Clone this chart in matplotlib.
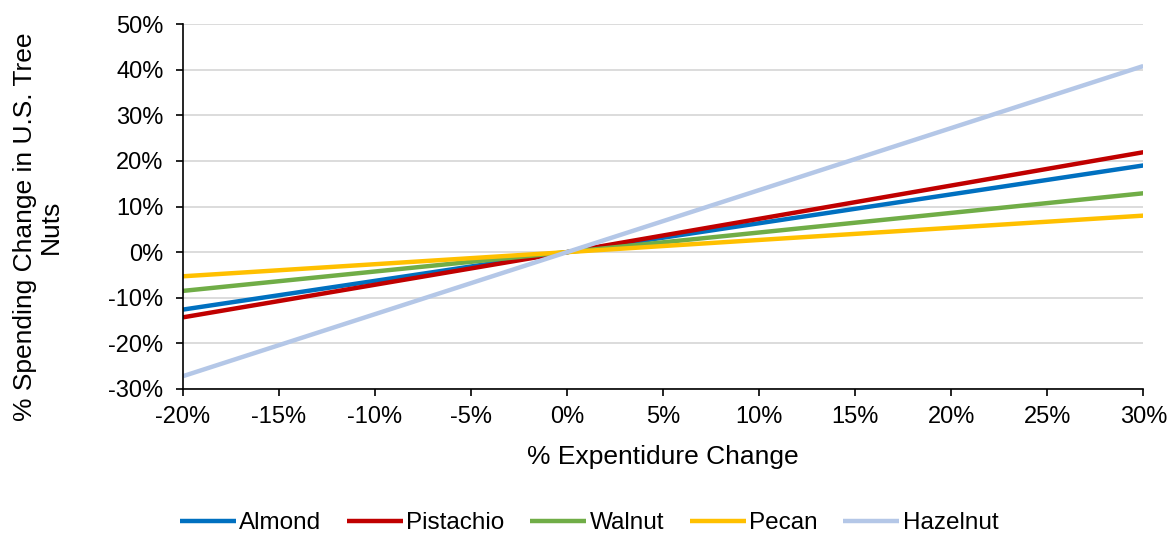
import matplotlib
matplotlib.use("Agg")
import matplotlib.pyplot as plt
from matplotlib.ticker import FuncFormatter

plt.rcParams['font.family'] = ['Liberation Sans', 'DejaVu Sans']

# Expenditure change (%) at the ends and the origin
expenditure = [-20, 0, 30]

almond = [-12.6, 0, 19.0]
pistachio = [-14.3, 0, 21.9]
walnut = [-8.5, 0, 12.9]
pecan = [-5.3, 0, 8.0]
hazelnut = [-27.2, 0, 40.8]

series_names = ["Almond", "Pistachio", "Walnut", "Pecan", "Hazelnut"]
series_values = [almond, pistachio, walnut, pecan, hazelnut]
colors = ["#0070C0", "#C00000", "#70AD47", "#FFC000", "#B4C7E7"]

x_ticks = list(range(-20, 31, 5))
y_ticks = list(range(-30, 51, 10))

fig = plt.figure(figsize=(11.69, 5.35), dpi=100)
ax = fig.add_axes([0.1565, 0.273, 0.8215, 0.682])

for name, vals, c in zip(series_names, series_values, colors):
    ax.plot(expenditure, vals, color=c, lw=3.2, label=name, solid_capstyle="butt")

ax.set_xlim(-20, 30)
ax.set_ylim(-30, 50)
ax.set_xticks(x_ticks)
ax.set_yticks(y_ticks)
pct = FuncFormatter(lambda v, p: f"{v:.0f}%")
ax.xaxis.set_major_formatter(pct)
ax.yaxis.set_major_formatter(pct)
ax.tick_params(labelsize=17, direction="out", length=5, width=1.2, colors="black")
ax.tick_params(axis="x", pad=7)
ax.tick_params(axis="y", pad=9)

ax.grid(axis="y", color="#D9D9D9", lw=1.3)
ax.set_axisbelow(True)
for s in ["top", "right"]:
    ax.spines[s].set_visible(False)
for s in ["left", "bottom"]:
    ax.spines[s].set_linewidth(1.2)
    ax.spines[s].set_color("black")

ax.set_xlabel("% Expentidure Change", fontsize=19)
ax.xaxis.set_label_coords(0.5, -0.186)
ax.xaxis.label.set_va("center")
ax.set_ylabel("% Spending Change in U.S. Tree\nNuts", fontsize=19, linespacing=1.1)
ax.yaxis.set_label_coords(-0.151, 0.444)
ax.yaxis.label.set_va("center")

fig.legend(loc="center", bbox_to_anchor=(0.504, 0.022), ncol=5, frameon=False,
           fontsize=17.5, handlelength=2.3, handletextpad=0.15, columnspacing=1.05)

fig.savefig("out.png", dpi=100)
